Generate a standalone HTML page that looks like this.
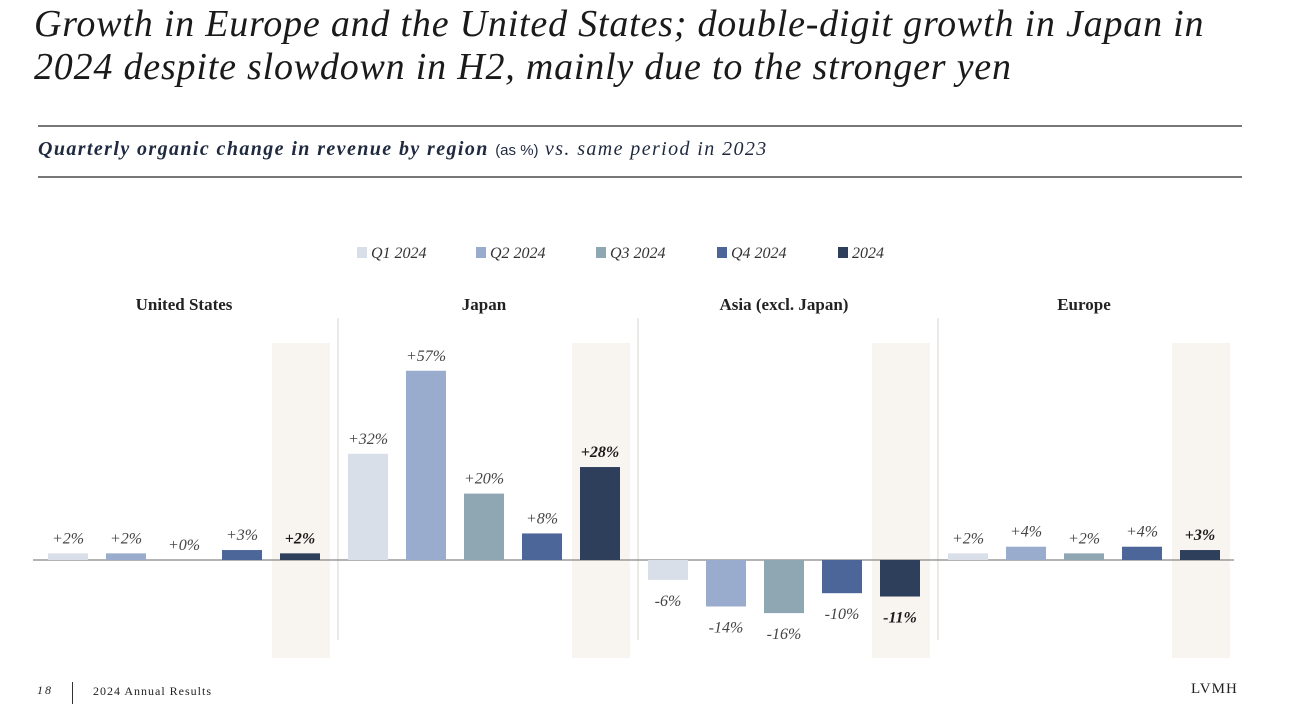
<!DOCTYPE html>
<html><head><meta charset="utf-8"><style>
body{margin:0;background:#fff;width:1292px;height:718px;overflow:hidden;font-family:"Liberation Serif",serif;color:#222}
.t{position:absolute;left:34px;top:3px;font-size:38px;letter-spacing:0.8px;font-style:italic;line-height:43px;color:#1a1a1a;margin:0;font-weight:normal;white-space:nowrap}
.hr{position:absolute;left:38px;width:1204px;height:1.5px;background:#777}
.sub{position:absolute;left:38px;top:138px;font-size:20px;letter-spacing:1.4px;font-style:italic;color:#1f2a40;white-space:nowrap}
</style></head><body>
<h1 class="t">Growth in Europe and the United States; double-digit growth in Japan in<br>2024 despite slowdown in H2, mainly due to the stronger yen</h1>
<div class="hr" style="top:125px"></div>
<div class="sub"><b>Quarterly organic change in revenue by region</b> <span style="font-style:normal;font-family:'Liberation Sans',sans-serif;font-size:15px;letter-spacing:0">(as %)</span> vs. same period in 2023</div>
<div class="hr" style="top:176px"></div>
<svg id="c" width="1292" height="718" style="position:absolute;left:0;top:0"></svg>
<script>
const regions=["United States","Japan","Asia (excl. Japan)","Europe"];
const series=["Q1 2024","Q2 2024","Q3 2024","Q4 2024","2024"];
const colors=["#d9dfe8","#9aaccd","#8fa7b3","#4d6699","#2e3f5c"];
const usVals=[2,2,0,3,2];
const japanVals=[32,57,20,8,28];
const asiaVals=[-6,-14,-16,-10,-11];
const europeVals=[2,4,2,4,3];
const data=[usVals,japanVals,asiaVals,europeVals];
const NS="http://www.w3.org/2000/svg";
const svg=document.getElementById('c');
const y0=560,k=3.32;
const yScale=v=>y0-v*k;
const groupX=g=>48+g*300;
const barX=(g,i)=>groupX(g)+i*58;
function mk(t,a){const e=document.createElementNS(NS,t);for(const n in a)e.setAttribute(n,a[n]);svg.appendChild(e);return e;}
for(let g=0;g<4;g++){
  const b=mk('rect',{x:barX(g,4)-8,y:343,width:58,height:315,fill:'#f8f5f0'});
  
  
  if(g>0){const d=mk('line',{x1:groupX(g)-10,x2:groupX(g)-10,y1:318,y2:640,stroke:'#d8d4cc','stroke-width':1});
    
    }
  const h=mk('text',{x:groupX(g)+136,y:310,'text-anchor':'middle','font-size':17,'font-weight':'bold',fill:'#222'});
  h.textContent=regions[g];
  
  
}
const ax=mk('line',{x1:33,x2:1234,y1:y0,y2:y0,stroke:'#888','stroke-width':1.2});


for(let g=0;g<4;g++)for(let i=0;i<5;i++){
  const v=data[g][i],x=barX(g,i),yt=yScale(Math.max(v,0)),yb=yScale(Math.min(v,0));
  const r=mk('rect',{x:x,y:yt,width:40,height:Math.max(yb-yt,0),fill:colors[i]});
  
  
  const ly=v>=0?yt-10:yb+26;
  const l=mk('text',{x:x+20,y:ly,'text-anchor':'middle','font-size':16,'font-style':'italic','font-weight':i==4?'bold':'normal',fill:i==4?'#1a1a1a':'#444'});
  l.textContent=(v>=0?'+':'')+v+'%';
  
  
}
const lx=[357,476,596,717,838];
series.forEach((s,i)=>{
  const r=mk('rect',{x:lx[i],y:247,width:10,height:11,fill:colors[i]});
  
  
  const t=mk('text',{x:lx[i]+14,y:258,'font-size':16,'font-style':'italic',fill:'#333'});
  t.textContent=s;
  
  
});
</script>
<div style="position:absolute;left:37px;top:683px;font-size:12px;font-style:italic;letter-spacing:2px">18</div>
<div style="position:absolute;left:72px;top:682px;width:1px;height:22px;background:#333"></div>
<div style="position:absolute;left:93px;top:684px;font-size:12px;letter-spacing:1px">2024 Annual Results</div>
<div style="position:absolute;left:1191px;top:681px;font-size:15px;letter-spacing:1px">LVMH</div>
</body></html>
